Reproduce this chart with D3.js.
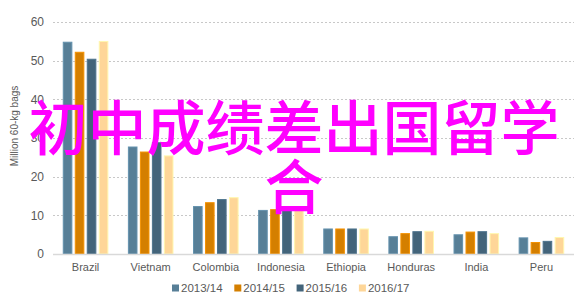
<!DOCTYPE html>
<html>
<head>
<meta charset="utf-8">
<script src="https://d3js.org/d3.v7.min.js"></script>
<style>
	body { margin: 0; background: #fff; }
	svg { display: block; font-family: 'Liberation Sans', Arial, sans-serif; }
</style>
</head>
<body>
<div id="chart"></div>
<script>
const countries = ['Brazil', 'Vietnam', 'Colombia', 'Indonesia', 'Ethiopia', 'Honduras', 'India', 'Peru'];
const seasons = ['2013/14', '2014/15', '2015/16', '2016/17'];
const v2013 = [54.9, 27.8, 12.4, 11.4, 6.6, 4.6, 5.1, 4.3];
const v2014 = [52.3, 26.5, 13.4, 11.6, 6.6, 5.4, 5.8, 3.1];
const v2015 = [50.5, 28.9, 14.2, 12.3, 6.6, 5.9, 5.9, 3.4];
const v2016 = [55.1, 25.5, 14.7, 11.5, 6.6, 6.0, 5.4, 4.4];
const yTicks = [0, 10, 20, 30, 40, 50, 60];
const yTitle = 'Million 60-kg bags';
const overlayLines = ['初中成绩差出国留学', '合'];

const COLORS = ['#577f97', '#d47f00', '#43647a', '#fed698'];

const width = 588;
const height = 301;
const margin = {top: 22, right: 14, bottom: 47, left: 53};

const series = [v2013, v2014, v2015, v2016];

const svg = d3
	.select('#chart')
	.append('svg')
	.attr('width', width)
	.attr('height', height);

const x0 = d3
	.scaleBand()
	.domain(countries)
	.range([margin.left, width - margin.right])
	.paddingInner(0.3)
	.paddingOuter(0.15);

const x1 = d3
	.scaleBand()
	.domain(seasons)
	.range([0, x0.bandwidth()])
	.paddingInner(0.2)
	.paddingOuter(0);

const y = d3
	.scaleLinear()
	.domain([0, 60])
	.range([height - margin.bottom, margin.top]);

// dotted grid lines
svg.append('g')
	.selectAll('line')
	.data(yTicks.filter(t => t > 0))
	.join('line')
	.attr('x1', margin.left)
	.attr('x2', width - margin.right)
	.attr('y1', d => Math.round(y(d)) + 0.5)
	.attr('y2', d => Math.round(y(d)) + 0.5)
	.attr('stroke', '#c8c8c8')
	.attr('stroke-dasharray', '2,2');

// bars
const groups = svg.append('g')
	.selectAll('g')
	.data(countries)
	.join('g')
	.attr('transform', d => `translate(${x0(d)},0)`);

groups.selectAll('rect')
	.data((c, i) => seasons.map((s, k) => ({season: s, k, value: series[k][i]})))
	.join('rect')
	.attr('x', d => x1(d.season) + 0.5)
	.attr('y', d => y(d.value) + 0.5)
	.attr('width', x1.bandwidth() - 1)
	.attr('height', d => y(0) - y(d.value) - 0.5)
	.attr('fill', d => COLORS[d.k])
	.attr('stroke', d => d3.color(COLORS[d.k]).brighter(0.4))
	.attr('stroke-width', 1);

// x axis
const xAxis = svg.append('g')
	.attr('transform', `translate(0,${y(0)})`)
	.call(d3.axisBottom(x0).tickSize(0).tickPadding(9));
xAxis.select('.domain')
	.attr('d', `M${margin.left},0.5H${width - margin.right}`)
	.attr('stroke', '#d9d9d9')
	.attr('stroke-width', 1.5);
xAxis.selectAll('text')
	.attr('fill', '#595959')
	.style('font-size', '11px');

// y axis
const yAxis = svg.append('g')
	.attr('transform', `translate(${margin.left - 9},0)`)
	.call(d3.axisLeft(y).tickValues(yTicks).tickSize(0).tickPadding(0));
yAxis.select('.domain').remove();
yAxis.selectAll('text')
	.attr('fill', '#595959')
	.style('font-size', '12px');

svg.append('text')
	.attr('transform', `translate(18,126) rotate(-90)`)
	.attr('text-anchor', 'middle')
	.attr('fill', '#595959')
	.style('font-size', '10px')
	.text(yTitle);

// legend
const legend = svg.append('g')
	.attr('transform', 'translate(172,288)');
const item = legend.selectAll('g')
	.data(seasons)
	.join('g')
	.attr('transform', (d, i) => `translate(${i * 62.3},0)`);
item.append('rect')
	.attr('x', 0)
	.attr('y', -3.5)
	.attr('width', 7)
	.attr('height', 7)
	.attr('fill', (d, i) => COLORS[i]);
item.append('text')
	.attr('x', 9)
	.attr('dy', '0.36em')
	.attr('fill', '#595959')
	.style('font-size', '11.5px')
	.text(d => d);

// overlay text, drawn last so it sits over the chart
svg.append('g')
	.selectAll('text')
	.data(overlayLines)
	.join('text')
	.attr('x', width / 2)
	.attr('y', (d, i) => 150 + i * 59)
	.attr('text-anchor', 'middle')
	.attr('fill', '#ff00ff')
	.style('font-family', "'Noto Sans CJK SC', sans-serif")
	.style('font-weight', '500')
	.style('font-size', '59px')
	.text(d => d);
</script>
</body>
</html>
